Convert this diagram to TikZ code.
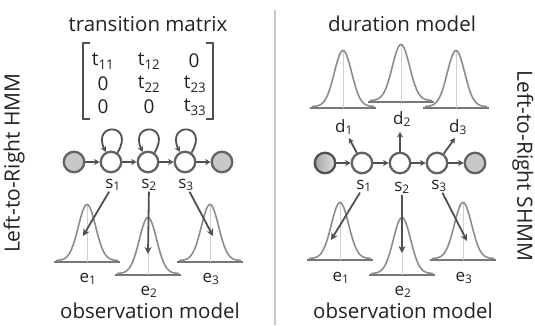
\documentclass[tikz,border=0pt]{standalone}
\usepackage{fontspec}
\setmainfont{Open Sans}
\usetikzlibrary{arrows.meta}

\definecolor{ink}{HTML}{222222}
\definecolor{ringc}{HTML}{626262}
\definecolor{arrowc}{HTML}{505050}
\definecolor{endfill}{HTML}{C8C8C8}
\definecolor{curvec}{HTML}{8C8C8C}
\definecolor{basec}{HTML}{777777}
\definecolor{midc}{HTML}{D0D0D0}
\definecolor{sepc}{HTML}{C8C8C8}

\tikzset{
  state/.style={circle, draw=ringc, line width=2.3pt, minimum size=20.5pt, inner sep=0pt, fill=white},
  endstate/.style={state, fill=endfill},
  startstate/.style={state, draw=arrowc, left color=gray!70, right color=gray!25},
  trans/.style={draw=arrowc, line width=1.8pt, -{Stealth[length=5.5pt,width=6pt]}},
  obs/.style={draw=arrowc, line width=1.8pt, -{Stealth[length=7pt,width=7pt]}},
  title/.style={text=ink, font=\fontsize{20.5}{22}\selectfont, inner sep=0pt},
  entry/.style={text=ink, font=\fontsize{19}{20}\selectfont, inner sep=1pt},
  lab/.style={text=ink, font=\fontsize{17}{18}\selectfont, inner sep=0.5pt},
  side/.style={text=ink, font=\fontsize{21}{22}\selectfont, inner sep=1pt},
  bracket/.style={draw=arrowc, line width=1.6pt},
  bell/.pic={
    \draw[basec, line width=1.6pt] (-33,0) -- (33,0);
    \draw[midc, line width=1pt] (0,0) -- (0,-57);
    \draw[curvec, line width=1.6pt] plot[domain=-31:31, samples=61, smooth]
      (\x,{-1.5-56*exp(-\x*\x/150)});
  }
}

\begin{document}
\begin{tikzpicture}[x=1pt, y=-1pt]
\useasboundingbox (0,0) rectangle (535,325);

% panel divider
\draw[sepc, line width=2pt] (275,10) -- (275,325);

% ---------------- left: left-to-right HMM ----------------
\node[side, rotate=90] (hmmname) at (14,163) {Left-to-Right HMM};
\node[title] (tmtitle) at (148,24) {transition matrix};

% transition matrix
\draw[bracket] (90,43) -- (83,43) -- (83,119) -- (90,119);
\draw[bracket] (206,43) -- (213,43) -- (213,119) -- (206,119);
\node[entry] (m11) at (103,61) {t\textsubscript{11}};
\node[entry] (m12) at (149,61) {t\textsubscript{12}};
\node[entry] (m13) at (194,61) {0};
\node[entry] (m21) at (103,84) {0};
\node[entry] (m22) at (149,84) {t\textsubscript{22}};
\node[entry] (m23) at (195,84) {t\textsubscript{23}};
\node[entry] (m31) at (103,107) {0};
\node[entry] (m32) at (149,107) {0};
\node[entry] (m33) at (195,107) {t\textsubscript{33}};

% state chain
\node[endstate] (l0) at (74,162) {};
\node[state] (l1) at (111,162) {};
\node[state] (l2) at (148,162) {};
\node[state] (l3) at (185,162) {};
\node[endstate] (l4) at (222,162) {};
\draw[trans] (l0) -- (l1);
\draw[trans] (l1) -- (l2);
\draw[trans] (l2) -- (l3);
\draw[trans] (l3) -- (l4);
\foreach \s in {l1,l2,l3}{
  \draw[trans] (\s.55) .. controls +(18,-30) and +(-14,-30) .. (\s.118);
}

\node[lab] (ls1) at (113,185) {s\textsubscript{1}};
\node[lab] (ls2) at (149,185) {s\textsubscript{2}};
\node[lab] (ls3) at (186,185) {s\textsubscript{3}};

% emission densities
\pic at (87,262) {bell};
\pic at (148,275) {bell};
\pic at (210,262) {bell};
\coordinate (le1) at (83,236);
\coordinate (le2) at (148,254);
\coordinate (le3) at (213,236);
\draw[obs] (ls1) -- (le1);
\draw[obs] (ls2) -- (le2);
\draw[obs] (ls3) -- (le3);
\node[lab] (e1a) at (88,279) {e\textsubscript{1}};
\node[lab] (e2a) at (149,292) {e\textsubscript{2}};
\node[lab] (e3a) at (211,279) {e\textsubscript{3}};
\node[title] (omleft) at (150,311) {observation model};

% ---------------- right: left-to-right HSMM ----------------
\node[side, rotate=-90] (hsmmname) at (523,166) {Left-to-Right SHMM};
\node[title] (dmtitle) at (402,24) {duration model};

% duration densities
\pic at (343,108) {bell};
\pic at (401,102) {bell};
\pic at (456,108) {bell};
\node[lab] (d1) at (344,127) {d\textsubscript{1}};
\node[lab] (d2) at (402,119) {d\textsubscript{2}};
\node[lab] (d3) at (458,127) {d\textsubscript{3}};

% state chain
\node[startstate] (r0) at (325,163) {};
\node[state] (r1) at (362,163) {};
\node[state] (r2) at (400,163) {};
\node[state] (r3) at (437,163) {};
\node[endstate] (r4) at (475,163) {};
\draw[trans] (r0) -- (r1);
\draw[trans] (r1) -- (r2);
\draw[trans] (r2) -- (r3);
\draw[trans] (r3) -- (r4);
\coordinate (rd1) at (349,138);
\coordinate (rd2) at (400,132);
\coordinate (rd3) at (455,138);
\draw[trans] (r1) -- (rd1);
\draw[trans] (r2) -- (rd2);
\draw[trans] (r3) -- (rd3);

\node[lab] (rs1) at (364,186) {s\textsubscript{1}};
\node[lab] (rs2) at (402,188) {s\textsubscript{2}};
\node[lab] (rs3) at (439,186) {s\textsubscript{3}};

% emission densities
\pic at (340,260) {bell};
\pic at (402,275) {bell};
\pic at (463,260) {bell};
\coordinate (re1) at (331,240);
\coordinate (re2) at (402,253);
\coordinate (re3) at (467,241);
\draw[obs] (rs1) -- (re1);
\draw[obs] (rs2) -- (re2);
\draw[obs] (rs3) -- (re3);
\node[lab] (e1b) at (341,278) {e\textsubscript{1}};
\node[lab] (e2b) at (403,292) {e\textsubscript{2}};
\node[lab] (e3b) at (464,278) {e\textsubscript{3}};
\node[title] (omright) at (403,311) {observation model};
\end{tikzpicture}
\end{document}
